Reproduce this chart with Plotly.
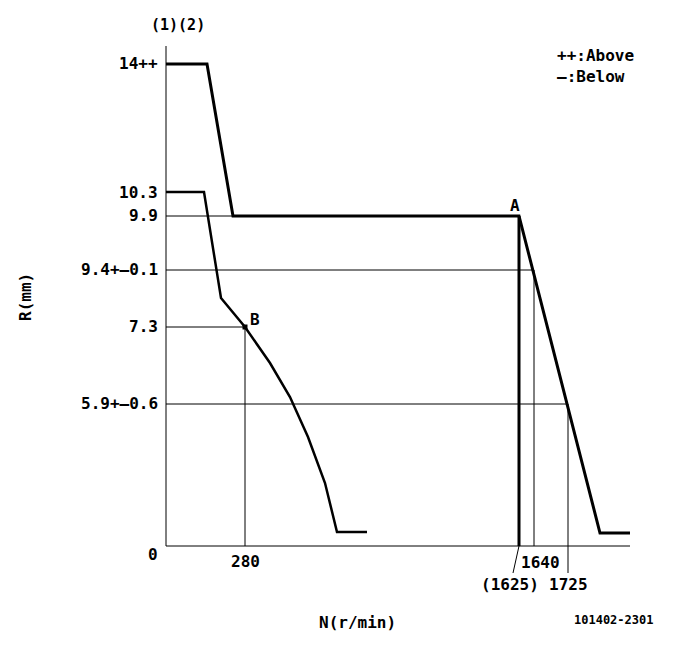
import plotly.graph_objects as go

# ---- Data: schematic diagram coordinates ----
# Upper (++ : Above) characteristic
above_n = [0, 41, 67, 353, 434, 464]
above_r = [482, 482, 330, 330, 13, 13]
# Lower (— : Below) characteristic
below_n = [0, 38, 55, 79, 104, 124, 142, 159, 171, 201]
below_r = [354, 354, 248, 219, 183, 149, 109, 63, 14, 14]
# (1625) vertical stop line
stop_n = [353, 353]
stop_r = [0, 330]

# R axis labels and their positions
r_tick_pos = [482, 353, 330, 276, 219, 142]
r_tick_text = ["14++", "10.3", "9.9", "9.4+—0.1", "7.3", "5.9+—0.6"]

# Reference (guide) lines: horizontal levels and vertical speeds
h_levels = [330, 276, 219, 142]         # 9.9, 9.4, 7.3, 5.9
h_ends = [353, 368, 79, 402]
v_pos = [79, 368, 402]                   # 280, 1640, 1725
v_tops = [219, 276, 142]
v_bottoms = [0, 0, -27]
n_labels = ["280", "1640", "1725", "(1625)"]
point_B = (79, 219)

FONT = "DejaVu Sans Mono"
fig = go.Figure()

def line(x, y, w, color="black"):
    fig.add_trace(go.Scatter(x=x, y=y, mode="lines",
                             line=dict(color=color, width=w),
                             hoverinfo="skip", showlegend=False))

# axes drawn as lines
line([0, 0], [0, 500], 1)
line([0, 464], [0, 0], 1)

# thin guide lines
for lv, e in zip(h_levels, h_ends):
    line([0, e], [lv, lv], 1)
for xv, t, b in zip(v_pos, v_tops, v_bottoms):
    line([xv, xv], [b, t], 1)
# leader for (1625)
line([stop_n[0], stop_n[0] - 6], [0, -27], 1)

# characteristic curves
line(stop_n, stop_r, 3)
line(above_n, above_r, 3)
line(below_n, below_r, 2.5)

fig.add_trace(go.Scatter(x=[point_B[0]], y=[point_B[1]], mode="markers",
                         marker=dict(color="black", size=5, symbol="square"),
                         hoverinfo="skip", showlegend=False))

def ann(text, x, y, size=16, weight="bold", xanchor="center", angle=0):
    fig.add_annotation(text=text, x=x, y=y, xref="x", yref="y",
                       showarrow=False, xanchor=xanchor, yanchor="middle",
                       textangle=angle,
                       font=dict(family=FONT, size=size, color="black",
                                 weight=weight))

# R tick labels
for p, t in zip(r_tick_pos, r_tick_text):
    ann(t, -6, p + 1, xanchor="right")
ann("0", -13, -8)

# N labels
ann(n_labels[0], v_pos[0], -15)
ann(n_labels[1], v_pos[1] + 6, -16)
ann(n_labels[2], v_pos[2], -38)
ann(n_labels[3], stop_n[0] - 9, -38)

ann("A", 349, 341)
ann("B", 89, 227)
ann("(1)(2)", 12, 521, size=15)
ann("++:Above", 389, 491, size=16, xanchor="left")
ann("—:Below", 389, 470, size=16, xanchor="left")
ann("N(r/min)", 191, -76, size=16)
ann("R(mm)", -141, 249, size=16, angle=-90)
ann("101402-2301", 447, -74, size=12)

# the page body has an 8px margin; ranges map 1 unit = 1 px over the whole figure
fig.update_layout(
    width=685, height=652,
    margin=dict(l=0, r=0, t=0, b=0),
    paper_bgcolor="white", plot_bgcolor="white",
    xaxis=dict(range=[-158, 527], visible=False, fixedrange=True),
    yaxis=dict(range=[-114, 538], visible=False, fixedrange=True),
)
fig.write_html("out.html")
